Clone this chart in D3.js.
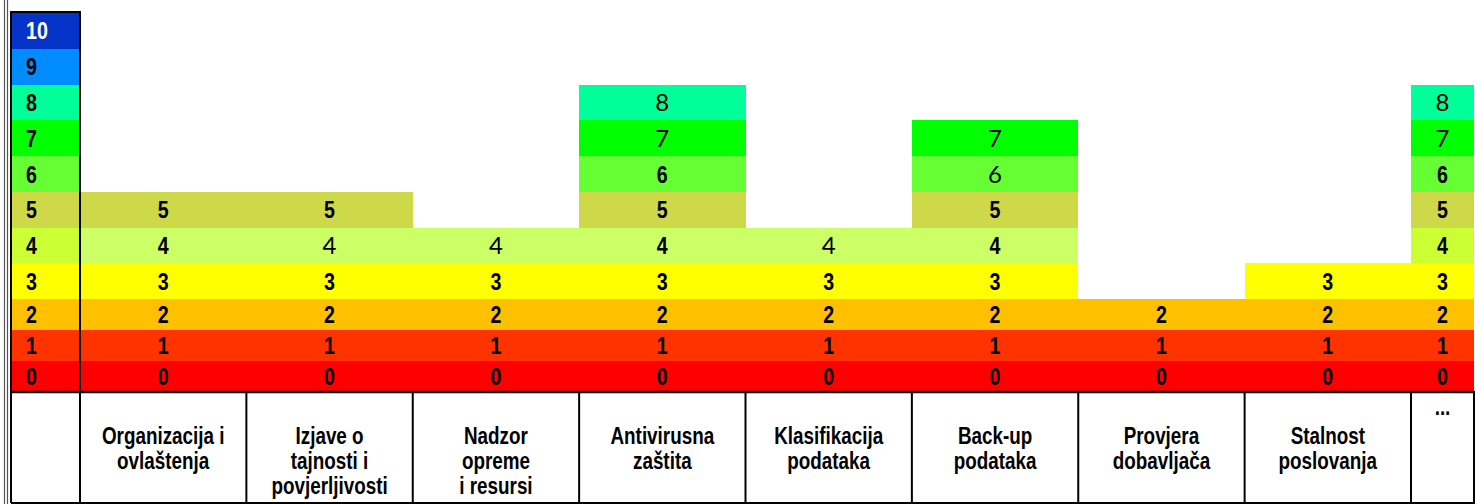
<!DOCTYPE html>
<html>
<head>
<meta charset="utf-8">
<script src="https://cdn.jsdelivr.net/npm/d3@7"></script>
<style>
  html, body { margin: 0; padding: 0; background: #fff; }
  svg { display: block; }
</style>
</head>
<body>
<svg id="chart" width="1475" height="504"></svg>
<script>
// ---------------- DATA ----------------
const categories = [
  "Organizacija i\novlaštenja",
  "Izjave o\ntajnosti i\npovjerljivosti",
  "Nadzor\nopreme\ni resursi",
  "Antivirusna\nzaštita",
  "Klasifikacija\npodataka",
  "Back-up\npodataka",
  "Provjera\ndobavljača",
  "Stalnost\nposlovanja",
  "..."
];
const values = [5, 5, 4, 8, 4, 7, 2, 3, 8];
const levels = [0, 1, 2, 3, 4, 5, 6, 7, 8, 9, 10];
const levelLabels = ["0", "1", "2", "3", "4", "5", "6", "7", "8", "9", "10"];

// ---------------- STYLE ----------------
const levelColors = ["#FF0000", "#FF3300", "#FFC000", "#FFFF00", "#CCFF33", "#CED94A",
                     "#66FF33", "#00FF00", "#00FF99", "#008CFF", "#0533C8"];
const dataLevel4Color = "#CCFF66";
// labels that were typed in a plain (non-bold) face in the original
const plainLabels = {
  "Izjave o\ntajnosti i\npovjerljivosti": [4],
  "Nadzor\nopreme\ni resursi": [4],
  "Antivirusna\nzaštita": [7, 8],
  "Klasifikacija\npodataka": [4],
  "Back-up\npodataka": [6, 7],
  "...": [7, 8]
};

// ---------------- FONT CHECK ----------------
function fontAvailable(name) {
  const ctx = document.createElement("canvas").getContext("2d");
  ctx.font = `bold 24px "${name}", monospace`;
  const a = ctx.measureText("Organizacija i 0123").width;
  ctx.font = "bold 24px monospace";
  const b = ctx.measureText("Organizacija i 0123").width;
  return Math.abs(a - b) > 0.5;
}
const narrowOK = fontAvailable("Liberation Sans Narrow");
const boldFamily = narrowOK ? "'Liberation Sans Narrow', 'Arial Narrow', sans-serif" : "'Liberation Sans', Arial, sans-serif";
const squeeze = narrowOK ? 1 : 0.82;

const W = 1475, H = 504;
const svg = d3.select("#chart");

// ---------------- SCALES ----------------
const legendLeft = 11, legendRight = 80, tableRight = 1474;
const tableTop = 12, barBottom = 392, tableBottom = 503;

const y = d3.scaleLinear().domain([0, 3, 10, 11]).range([barBottom, 299, 49, tableTop]);
const x = d3.scaleBand().domain(categories.slice(0, 8)).range([legendRight, 1411]).paddingInner(0).paddingOuter(0);
function colX0(c) { return x.domain().includes(c) ? x(c) : x.range()[1]; }
function colW(c) { return x.domain().includes(c) ? x.bandwidth() : tableRight - x.range()[1]; }

const color = d3.scaleOrdinal().domain(levels).range(levelColors);

function placeText(sel, px, py) {
  sel.attr("transform", `translate(${px},${py}) scale(${squeeze},1)`);
}

// ---------------- BARS ----------------
const cols = svg.append("g").selectAll("g.col")
  .data(categories.map((c, i) => ({ cat: c, value: values[i], last: i === categories.length - 1 })))
  .join("g").attr("class", "col");

cols.each(function (d) {
  const g = d3.select(this);
  const segs = levels.filter(l => l <= d.value);
  const x0 = colX0(d.cat), w = colW(d.cat);
  g.selectAll("rect").data(segs).join("rect")
    .attr("x", x0)
    .attr("width", w)
    .attr("y", l => y(l + 1))
    .attr("height", l => y(l) - y(l + 1))
    .attr("fill", l => (l === 4 && !d.last) ? dataLevel4Color : color(l))
    .attr("shape-rendering", "crispEdges");
  const plain = plainLabels[d.cat] || [];
  g.selectAll("text").data(segs).join("text")
    .text(l => levelLabels[l])
    .attr("text-anchor", "middle")
    .attr("fill", "#000")
    .each(function (l) {
      const t = d3.select(this);
      const cy = (y(l) + y(l + 1)) / 2;
      if (plain.includes(l)) {
        t.attr("font-family", "Lato, 'Open Sans', sans-serif").attr("font-size", 24)
         .attr("font-weight", "normal")
         .attr("x", x0 + w / 2).attr("y", cy + 8.5);
      } else {
        t.attr("font-family", boldFamily).attr("font-size", 24).attr("font-weight", "bold");
        placeText(t, x0 + w / 2, cy + 8.6);
      }
    });
});

// ---------------- LEGEND COLUMN ----------------
const legend = svg.append("g");
legend.selectAll("rect").data(levels).join("rect")
  .attr("x", legendLeft)
  .attr("width", legendRight - legendLeft)
  .attr("y", l => y(l + 1))
  .attr("height", l => y(l) - y(l + 1))
  .attr("fill", l => color(l))
  .attr("shape-rendering", "crispEdges");
legend.selectAll("text").data(levels).join("text")
  .text(l => levelLabels[l])
  .attr("font-family", boldFamily)
  .attr("font-size", 24)
  .attr("font-weight", "bold")
  .attr("fill", l => l === 10 ? "#fff" : "#000")
  .each(function (l) {
    placeText(d3.select(this), 26, (y(l) + y(l + 1)) / 2 + 8.6);
  });

// ---------------- GRID / BORDERS ----------------
const lines = svg.append("g").attr("stroke", "#000").attr("fill", "none");
// left page double rule
lines.append("line").attr("x1", 4.5).attr("x2", 4.5).attr("y1", 0).attr("y2", H).attr("stroke", "#555").attr("stroke-width", 1.2);
lines.append("line").attr("x1", 7.5).attr("x2", 7.5).attr("y1", 0).attr("y2", H).attr("stroke", "#555").attr("stroke-width", 1.2);
// legend column outline
lines.append("rect").attr("x", legendLeft).attr("y", tableTop).attr("width", legendRight - legendLeft).attr("height", barBottom - tableTop).attr("stroke-width", 2);
// separator between bars and labels
lines.append("line").attr("x1", legendLeft).attr("x2", W).attr("y1", barBottom).attr("y2", barBottom).attr("stroke-width", 2.5);
// bottom
lines.append("line").attr("x1", legendLeft).attr("x2", W).attr("y1", tableBottom).attr("y2", tableBottom).attr("stroke-width", 2);
// column dividers in label row
const dividers = [legendLeft, legendRight].concat(categories.map(c => colX0(c) + colW(c)));
lines.selectAll("line.div").data(dividers).join("line").attr("class", "div")
  .attr("x1", d => d).attr("x2", d => d)
  .attr("y1", barBottom).attr("y2", tableBottom)
  .attr("stroke-width", 2);

// ---------------- CATEGORY LABELS ----------------
const labG = svg.append("g");
categories.forEach((c, i) => {
  const linesTxt = c.split("\n");
  const isEllipsis = c === "...";
  const cx = colX0(c) + colW(c) / 2;
  const base = isEllipsis ? 415 : 443.5;
  linesTxt.forEach((ln, k) => {
    const t = labG.append("text")
      .text(ln)
      .attr("text-anchor", "middle")
      .attr("font-family", boldFamily)
      .attr("font-size", 23)
      .attr("font-weight", "bold")
      .attr("fill", "#000");
    placeText(t, cx, base + k * 25);
  });
});
</script>
</body>
</html>
